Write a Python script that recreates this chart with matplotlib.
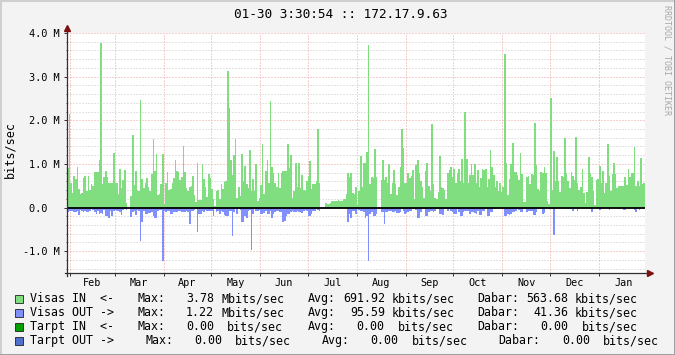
import numpy as np
import matplotlib
matplotlib.use("Agg")
import matplotlib.pyplot as plt
from matplotlib.patches import Rectangle
from matplotlib.lines import Line2D

# ---------------- data (Mbits/sec, one value per day starting Jan 30) -------------
visas_in = [
    # Jan 30 .. Mar 23
    0.90, 2.14, 0.56, 0.34, 0.72, 0.65, 0.92, 0.42, 0.32, 0.34,
    0.67, 0.72, 0.38, 0.72, 0.40, 0.53, 0.50, 0.82, 0.82, 0.82,
    1.10, 3.78, 0.53, 0.69, 0.84, 0.69, 0.57, 0.57, 0.57, 1.26,
    0.57, 0.57, 0.30, 0.88, 0.44, 0.63, 0.86, 0.11, 0.00, 0.00,
    0.27, 1.66, 0.51, 0.83, 0.40, 0.39, 2.46, 0.66, 0.44, 0.56,
    0.68, 0.46, 0.39,
    # .. May 15
    0.76, 1.56, 0.84, 1.22, 0.29, 0.30, 0.53, 1.22, 0.08, 0.56,
    0.82, 0.40, 0.42, 0.56, 0.67, 1.08, 0.84, 0.82, 0.63, 0.69,
    1.41, 0.82, 0.44, 0.37, 0.47, 0.50, 0.73, 0.29, 0.13, 1.03,
    0.17, 0.17, 0.99, 0.65, 0.46, 0.25, 0.76, 0.67, 0.42, 0.19,
    0.04, 0.37, 0.40, 0.19, 0.53, 0.42, 0.59, 0.60, 3.13, 2.27,
    1.10, 0.75, 1.20,
    # .. Jul 7
    1.56, 0.23, 0.48, 0.27, 1.22, 0.61, 0.95, 0.53, 0.44, 1.32,
    0.38, 0.65, 0.38, 0.99, 0.15, 0.23, 0.52, 1.45, 0.30, 0.84,
    1.08, 0.56, 2.44, 0.93, 0.80, 0.56, 0.46, 0.79, 0.44, 0.80,
    0.84, 0.84, 0.84, 1.45, 0.90, 1.20, 0.21, 0.37, 1.03, 0.47,
    1.02, 0.44, 0.75, 0.40, 0.37, 0.60, 0.73, 1.07, 0.42, 0.53,
    0.53, 0.61, 1.79,
    # .. Aug 29
    0.57, 0.00, 0.00, 0.00, 0.11, 0.08, 0.08, 0.10, 0.14, 0.14,
    0.14, 0.16, 0.18, 0.15, 0.15, 0.19, 0.19, 0.30, 0.79, 0.69,
    0.80, 0.34, 0.30, 0.46, 0.05, 0.37, 1.17, 0.48, 1.03, 1.03,
    1.27, 3.72, 0.53, 0.71, 0.67, 1.34, 0.71, 0.00, 0.00, 0.63,
    1.08, 0.63, 0.69, 0.56, 0.99, 0.30, 0.57, 0.86, 0.53, 0.29,
    0.48, 0.93, 1.79,
    # .. Oct 20
    1.37, 0.56, 0.56, 0.80, 0.67, 0.73, 0.86, 0.19, 0.98, 1.08,
    0.80, 0.60, 0.46, 0.21, 0.84, 1.03, 0.50, 0.38, 1.91, 0.53,
    0.21, 0.19, 0.36, 1.18, 0.47, 0.45, 0.40, 0.19, 0.80, 0.86,
    0.93, 0.70, 0.89, 0.56, 0.79, 0.89, 0.60, 1.11, 0.56, 2.20,
    1.11, 0.57, 0.75, 0.99, 0.75, 0.99, 0.57, 0.86, 0.46, 0.67,
    0.88, 0.85,
    # .. Dec 13
    0.88, 0.46, 0.66, 1.31, 0.93, 0.75, 0.48, 0.61, 0.38, 0.56,
    0.36, 0.46, 3.51, 1.01, 0.29, 0.65, 0.99, 1.49, 0.82, 0.82,
    0.75, 0.63, 1.24, 0.78, 0.13, 0.13, 0.69, 0.73, 0.53, 0.78,
    0.75, 1.93, 0.97, 0.42, 0.37, 0.82, 0.80, 0.93, 0.80, 0.15,
    0.08, 2.50, 0.40, 1.30, 0.61, 1.15, 0.61, 0.36, 0.73, 0.69,
    1.59, 0.79, 0.61, 0.44,
    # .. Jan 29
    0.82, 0.73, 0.63, 1.62, 0.56, 0.40, 0.48, 0.88, 0.34, 0.10,
    0.36, 1.16, 0.79, 0.69, 0.39, 0.06, 0.63, 0.65, 0.95, 0.57,
    0.83, 0.33, 0.56, 1.45, 0.73, 0.38, 0.76, 1.03, 0.76, 0.44,
    0.50, 0.50, 0.50, 0.50, 0.69, 0.51, 0.88, 0.69, 0.79, 0.79,
    1.39, 0.50, 0.61, 0.50, 1.13, 0.53, 0.57,
]

visas_out = [
    0.10, 0.08, 0.08, 0.09, 0.10, 0.11, 0.08, 0.17, 0.06, 0.08,
    0.10, 0.07, 0.10, 0.10, 0.08, 0.04, 0.06, 0.10, 0.14, 0.08,
    0.14, 0.12, 0.15, 0.06, 0.19, 0.19, 0.24, 0.08, 0.19, 0.08,
    0.06, 0.07, 0.09, 0.10, 0.17, 0.05, 0.04, 0.05, 0.00, 0.00,
    0.21, 0.10, 0.08, 0.18, 0.06, 0.08, 0.76, 0.34, 0.08, 0.15,
    0.15, 0.12, 0.12,
    0.10, 0.19, 0.25, 0.25, 0.08, 0.06, 0.05, 1.22, 0.08, 0.11,
    0.08, 0.09, 0.15, 0.15, 0.10, 0.10, 0.10, 0.09, 0.08, 0.10,
    0.11, 0.10, 0.09, 0.10, 0.37, 0.08, 0.07, 0.05, 0.04, 0.56,
    0.14, 0.14, 0.08, 0.11, 0.06, 0.07, 0.08, 0.08, 0.08, 0.20,
    0.04, 0.10, 0.09, 0.15, 0.08, 0.10, 0.16, 0.19, 0.19, 0.08,
    0.09, 0.65, 0.10,
    0.04, 0.15, 0.04, 0.05, 0.33, 0.33, 0.19, 0.25, 0.08, 0.06,
    0.97, 0.15, 0.04, 0.08, 0.08, 0.06, 0.15, 0.15, 0.12, 0.08,
    0.15, 0.15, 0.08, 0.23, 0.15, 0.10, 0.08, 0.08, 0.11, 0.10,
    0.34, 0.30, 0.19, 0.14, 0.14, 0.10, 0.08, 0.11, 0.10, 0.08,
    0.11, 0.11, 0.12, 0.08, 0.06, 0.08, 0.19, 0.19, 0.15, 0.08,
    0.07, 0.04, 0.05,
    0.08, 0.00, 0.00, 0.00, 0.01, 0.01, 0.02, 0.01, 0.02, 0.02,
    0.01, 0.02, 0.02, 0.01, 0.02, 0.02, 0.02, 0.03, 0.34, 0.15,
    0.25, 0.08, 0.07, 0.15, 0.03, 0.05, 0.08, 0.07, 0.10, 0.23,
    0.19, 1.22, 0.14, 0.10, 0.19, 0.19, 0.14, 0.00, 0.00, 0.10,
    0.10, 0.37, 0.11, 0.10, 0.08, 0.08, 0.10, 0.10, 0.08, 0.13,
    0.12, 0.11, 0.04,
    0.08, 0.14, 0.12, 0.10, 0.08, 0.07, 0.04, 0.04, 0.05, 0.24,
    0.24, 0.10, 0.03, 0.03, 0.19, 0.19, 0.11, 0.08, 0.08, 0.11,
    0.08, 0.04, 0.03, 0.15, 0.15, 0.18, 0.04, 0.04, 0.08, 0.03,
    0.08, 0.10, 0.14, 0.14, 0.04, 0.10, 0.19, 0.19, 0.11, 0.08,
    0.08, 0.08, 0.14, 0.10, 0.11, 0.12, 0.15, 0.08, 0.17, 0.18,
    0.08, 0.08,
    0.04, 0.19, 0.19, 0.10, 0.11, 0.04, 0.03, 0.02, 0.02, 0.03,
    0.02, 0.03, 0.19, 0.19, 0.14, 0.17, 0.15, 0.11, 0.10, 0.08,
    0.04, 0.05, 0.11, 0.11, 0.03, 0.04, 0.11, 0.08, 0.08, 0.09,
    0.17, 0.17, 0.11, 0.04, 0.03, 0.03, 0.15, 0.12, 0.02, 0.02,
    0.04, 0.03, 0.04, 0.63, 0.02, 0.02, 0.02, 0.03, 0.02, 0.02,
    0.04, 0.02, 0.02, 0.03,
    0.02, 0.08, 0.02, 0.02, 0.07, 0.02, 0.02, 0.03, 0.02, 0.02,
    0.02, 0.02, 0.02, 0.10, 0.02, 0.02, 0.02, 0.02, 0.05, 0.02,
    0.02, 0.02, 0.02, 0.02, 0.05, 0.02, 0.02, 0.02, 0.02, 0.02,
    0.04, 0.02, 0.02, 0.06, 0.06, 0.02, 0.02, 0.02, 0.02, 0.02,
    0.06, 0.10, 0.02, 0.06, 0.02, 0.02, 0.02,
]

months = ["Feb", "Mar", "Apr", "May", "Jun", "Jul", "Aug", "Sep", "Oct", "Nov", "Dec", "Jan"]
month_start_day = [2, 30, 61, 91, 122, 152, 183, 214, 244, 275, 305, 336, 367]
y_ticks = [-1.0, 0.0, 1.0, 2.0, 3.0, 4.0]
y_tick_labels = ["-1.0 M", "0.0  ", "1.0 M", "2.0 M", "3.0 M", "4.0 M"]

title = "01-30 3:30:54 :: 172.17.9.63"
legend_names = ["Visas IN  <-", "Visas OUT ->", "Tarpt IN  <-", "Tarpt OUT ->"]
legend_max = ["3.78", "1.22", "0.00", "0.00"]
legend_max_unit = ["Mbits/sec", "Mbits/sec", "bits/sec", "bits/sec"]
legend_avg = ["691.92", "95.59", "0.00", "0.00"]
legend_avg_unit = ["kbits/sec", "kbits/sec", "bits/sec", "bits/sec"]
legend_cur = ["563.68", "41.36", "0.00", "0.00"]
legend_cur_unit = ["kbits/sec", "kbits/sec", "bits/sec", "bits/sec"]
legend_colors = ["#80DD80", "#8090FF", "#00A000", "#5070D0"]

# ---------------- figure ---------------------------------------------------------
W, H = 675, 355
MONO = "DejaVu Sans Mono"
fig = plt.figure(figsize=(W / 100, H / 100), dpi=100, facecolor="#F3F3F3")

def fx(x):
    return x / W

def fy(y):
    return 1 - y / H

L, R, T, B = 67, 645, 33, 273
ax = fig.add_axes([fx(L), fy(B), (R - L) / W, (B - T) / H])
ax.set_facecolor("white")

n = len(visas_in)
edges = np.arange(n + 1)
vin = np.array(visas_in) * 1e6
vout = np.array(visas_out) * 1e6

ax.set_xlim(0, n)
ax.set_ylim(-1.5e6, 4.0e6)

# grid
grid_minor_c = "#C8C8C8"
grid_major_c = "#EFA0A0"
dots = (0, (1, 2))
for v in np.arange(-1.4, 4.01, 0.2):
    vv = round(v, 1)
    if abs(vv - round(vv)) < 1e-6:
        continue
    ax.axhline(vv * 1e6, color=grid_minor_c, lw=0.72, ls=dots, zorder=1)
for v in y_ticks:
    ax.axhline(v * 1e6, color=grid_major_c, lw=0.72, ls=dots, zorder=1)
for d in month_start_day[:-1]:
    ax.axvline(d, color=grid_major_c, lw=0.72, ls=dots, zorder=1)

ax.stairs(vin, edges, baseline=0, fill=True, color=legend_colors[0], lw=0, zorder=2)
ax.stairs(-vout, edges, baseline=0, fill=True, color=legend_colors[1], lw=0, zorder=2)
ax.axhline(0, color="black", lw=1.3, zorder=3)

for s in ax.spines.values():
    s.set_visible(False)

# axis lines with arrows
axis_c = "#303030"
arrow_c = "#801010"
ax.add_line(Line2D([-0.004, 1.006], [0, 0], transform=ax.transAxes, color=axis_c, lw=0.9, clip_on=False, zorder=4))
ax.add_line(Line2D([0, 0], [-0.012, 1.018], transform=ax.transAxes, color=axis_c, lw=0.9, clip_on=False, zorder=4))
ax.plot([1.008], [0], marker=">", ms=4, color=arrow_c, transform=ax.transAxes, clip_on=False, zorder=5)
ax.plot([0], [1.02], marker="^", ms=4, color=arrow_c, transform=ax.transAxes, clip_on=False, zorder=5)

# ticks
ax.set_yticks([v * 1e6 for v in y_ticks])
ax.set_yticklabels(y_tick_labels, fontsize=7.4, family=MONO)
ax.set_yticks([round(v, 1) * 1e6 for v in np.arange(-1.4, 4.01, 0.2)], minor=True)
ax.tick_params(axis="y", which="major", length=2, width=0.7, color=axis_c, pad=3)
ax.tick_params(axis="y", which="minor", length=1, width=0.6, color=axis_c)

ax.set_xticks(month_start_day[:-1])
ax.set_xticklabels([])
mids = [(month_start_day[i] + month_start_day[i + 1]) / 2 for i in range(len(months))]
ax.set_xticks(mids, minor=True)
ax.set_xticklabels(months, minor=True, fontsize=7.3, family=MONO)
ax.tick_params(axis="x", which="major", length=2, width=0.7, color=axis_c)
ax.tick_params(axis="x", which="minor", length=0, pad=3.5)

# texts
fig.text(fx(341), fy(14), title, ha="center", va="center", fontsize=9.2, family=MONO)
fig.text(fx(10), fy(150), "bits/sec", rotation=90, ha="center", va="center", fontsize=8.5, family=MONO)
fig.text(fx(667), fy(60), "RRDTOOL / TOBI OETIKER", rotation=270, ha="center", va="center",
         fontsize=6, family=MONO, color="#A8A8A8")

# legend
line_y = [298.5, 312.5, 326.5, 340.5]
xpos = [
    [30, 138, 186, 222, 308, 343, 392, 477, 526, 575],
    [30, 138, 186, 222, 308, 350, 392, 477, 533, 575],
    [30, 138, 186, 227, 308, 356, 398, 477, 540, 582],
    [30, 145, 194, 235, 322, 370, 412, 498, 562, 603],
]
for i in range(4):
    fig.add_artist(Rectangle((fx(15), fy(line_y[i] + 4)), 8 / W, 8 / H, transform=fig.transFigure,
                             facecolor=legend_colors[i], edgecolor="#202020", lw=0.6))
    parts = [legend_names[i], "Max:", legend_max[i], legend_max_unit[i], "Avg:", legend_avg[i],
             legend_avg_unit[i], "Dabar:", legend_cur[i], legend_cur_unit[i]]
    for x, t in zip(xpos[i], parts):
        fig.text(fx(x), fy(line_y[i]), t, ha="left", va="center", fontsize=8.4, family=MONO)

# frame
fig.add_artist(Line2D([0, 1], [fy(0.5), fy(0.5)], transform=fig.transFigure, color="#CFCFCF", lw=1.4))
fig.add_artist(Line2D([fx(0.5), fx(0.5)], [0, 1], transform=fig.transFigure, color="#CFCFCF", lw=1.4))
fig.add_artist(Line2D([0, 1], [fy(354.5), fy(354.5)], transform=fig.transFigure, color="#9E9E9E", lw=1.4))
fig.add_artist(Line2D([fx(674.5), fx(674.5)], [0, 1], transform=fig.transFigure, color="#9E9E9E", lw=1.4))

fig.savefig("out.png", dpi=100, facecolor=fig.get_facecolor())
